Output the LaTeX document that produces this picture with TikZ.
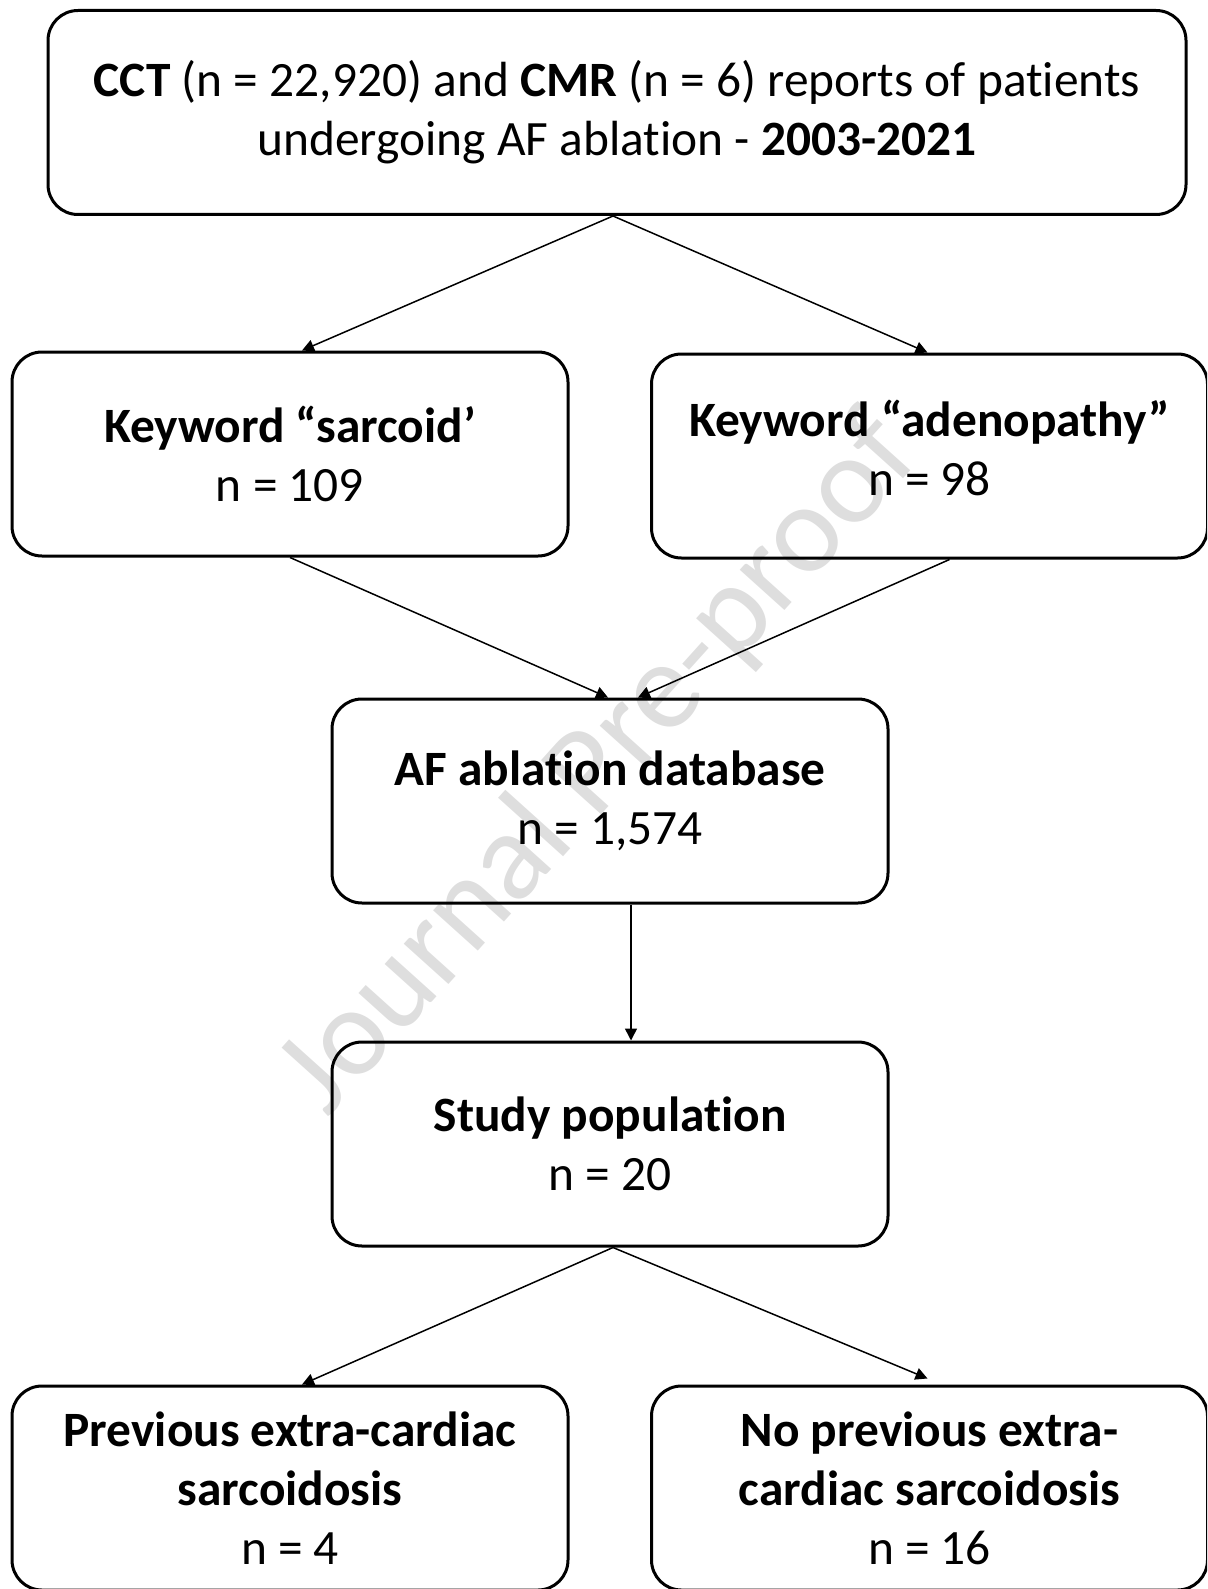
\documentclass[tikz,border=0pt]{standalone}
\usepackage{fontspec}
\setmainfont{Carlito}[Ligatures=NoCommon]
\usetikzlibrary{arrows.meta}

\tikzset{
  stage/.style={draw, line width=1.5pt, rounded corners=15pt, align=center,
    minimum width=278pt, minimum height=102pt, inner sep=0pt,
    font=\fontsize{24.7}{29.5}\selectfont},
  flow/.style={line width=0.75pt, -{Triangle[length=6pt,width=6pt]}}
}

\begin{document}
\begin{tikzpicture}[x=0.5pt, y=-0.5pt]
\clip (0,0) rectangle (1207,1589);
\node[rotate=48, text=black!13, font=\fontsize{63}{63}\selectfont] (mark) at (600,766) {Journal Pre-proof};

\node[stage, minimum width=569pt] (reports) at (617,112.5)
  {\textbf{CCT} (n = 22,920) and \textbf{CMR} (n = 6) reports of patients\\ undergoing AF ablation - \textbf{2003-2021}};
\node[stage] (sarcoid) at (290,454) {\textbf{Keyword “sarcoid’}\\ n = 109};
\node[stage] (adeno) at (929.5,456) {\textbf{Keyword “adenopathy”}\\ n = 98\rule[-8pt]{0pt}{1pt}};
\node[stage] (database) at (610,801) {\textbf{AF ablation database}\\ n = 1,574};
\node[stage] (study) at (610,1144) {\textbf{Study population}\\ n = 20};
\node[stage] (prev) at (290,1488) {\textbf{Previous extra-cardiac}\\ \textbf{sarcoidosis}\\ n = 4};
\node[stage] (noprev) at (929.5,1488) {\textbf{No previous extra-}\\ \textbf{cardiac sarcoidosis}\\ n = 16};

\draw[flow] ([xshift=-2pt]reports.south) -- ([xshift=6pt]sarcoid.north);
\draw[flow] ([xshift=-2pt]reports.south) -- ([xshift=-1pt]adeno.north);
\draw[flow] (sarcoid.south) -- ([xshift=-1pt]database.north);
\draw[flow] ([xshift=10pt]adeno.south) -- ([xshift=14pt]database.north);
\draw[flow] ([xshift=10.5pt]database.south) -- ([xshift=10.5pt]study.north);
\draw[flow] ([xshift=1.5pt]study.south) -- ([xshift=6pt]prev.north);
\draw[flow] ([xshift=1.5pt]study.south) -- ([xshift=-1pt,yshift=3pt]noprev.north);
\end{tikzpicture}
\end{document}
